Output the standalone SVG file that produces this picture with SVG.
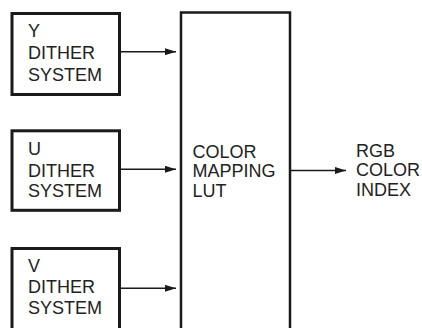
<svg xmlns="http://www.w3.org/2000/svg" width="422" height="328" viewBox="0 0 422 328">
<defs>
<style>
.box{fill:none;stroke:#1a1a1a;stroke-width:3}
.lut{fill:none;stroke:#1a1a1a;stroke-width:2.5}
.t{font-family:"Liberation Sans",Arial,sans-serif;font-size:18px;fill:#222}
.c{fill:none;stroke:#1a1a1a;stroke-width:1.4}
</style>
<marker id="ah" viewBox="0 0 11 7" refX="11" refY="3.5" markerWidth="11" markerHeight="7" markerUnits="userSpaceOnUse" orient="auto">
<path d="M0,0 L11,3.5 L0,7 Z" fill="#1a1a1a"/>
</marker>
</defs>
<rect width="422" height="328" fill="#fff"/>
<g id="y-dither">
<rect class="box" x="12" y="13.5" width="107.5" height="81"/>
<text class="t" x="28" y="37.3">Y</text>
<text class="t" x="28" y="59.3">DITHER</text>
<text class="t" x="28" y="81">SYSTEM</text>
</g>
<g id="u-dither">
<rect class="box" x="12" y="130.8" width="107.5" height="79.5"/>
<text class="t" x="28" y="155">U</text>
<text class="t" x="28" y="176.5">DITHER</text>
<text class="t" x="28" y="197">SYSTEM</text>
</g>
<g id="v-dither">
<path class="box" d="M12,340 V248.5 H119.5 V340"/>
<text class="t" x="28" y="271.7">V</text>
<text class="t" x="28" y="293.3">DITHER</text>
<text class="t" x="28" y="314">SYSTEM</text>
</g>
<g id="lut">
<path class="lut" d="M181,340 V12.5 H290 V340"/>
<text class="t" x="192.5" y="157.7">COLOR</text>
<text class="t" x="192.5" y="177.3">MAPPING</text>
<text class="t" x="192.5" y="196.5">LUT</text>
</g>
<g id="rgb-index">
<text class="t" x="356" y="156.7">RGB</text>
<text class="t" x="356" y="176">COLOR</text>
<text class="t" x="356" y="195.5">INDEX</text>
</g>
<g id="connectors">
<line class="c" x1="121" y1="51.7" x2="176" y2="51.7" marker-end="url(#ah)"/>
<line class="c" x1="121" y1="169.3" x2="176" y2="169.3" marker-end="url(#ah)"/>
<line class="c" x1="121" y1="288.3" x2="176" y2="288.3" marker-end="url(#ah)"/>
<line class="c" x1="291" y1="170.5" x2="346" y2="170.5" marker-end="url(#ah)"/>
</g>
</svg>
